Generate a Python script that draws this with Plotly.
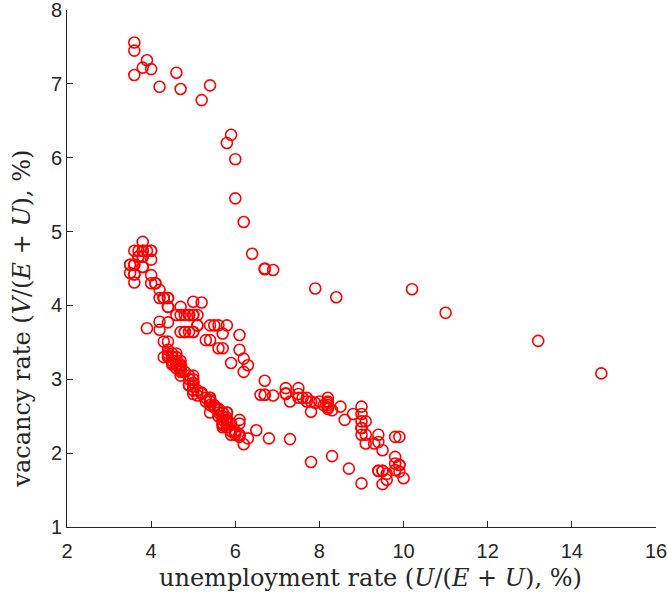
import plotly.graph_objects as go

# monthly points, Dec 2000 onward: unemployment rate (%) and vacancy rate (%)
u_2000 = [3.9]
v_2000 = [3.69]

u_2001 = [4.2, 4.2, 4.3, 4.4, 4.3, 4.5, 4.6, 4.9, 5.0, 5.3, 5.5, 5.7]
v_2001 = [3.78, 3.67, 3.51, 3.51, 3.30, 3.20, 3.15, 3.05, 2.85, 2.75, 2.62, 2.55]
u_2002 = [5.7, 5.7, 5.7, 5.9, 5.8, 5.8, 5.8, 5.7, 5.7, 5.7, 5.9, 6.0]
v_2002 = [2.55, 2.50, 2.45, 2.40, 2.45, 2.48, 2.42, 2.40, 2.35, 2.38, 2.30, 2.25]
u_2003 = [5.8, 5.9, 5.9, 6.0, 6.1, 6.3, 6.2, 6.1, 6.1, 6.0, 5.8, 5.7]
v_2003 = [2.40, 2.30, 2.25, 2.28, 2.25, 2.20, 2.12, 2.22, 2.25, 2.30, 2.35, 2.40]
u_2004 = [5.7, 5.6, 5.8, 5.6, 5.6, 5.6, 5.5, 5.4, 5.4, 5.5, 5.4, 5.4]
v_2004 = [2.45, 2.50, 2.55, 2.55, 2.60, 2.58, 2.62, 2.65, 2.55, 2.65, 2.70, 2.72]
u_2005 = [5.3, 5.4, 5.2, 5.2, 5.1, 5.0, 5.0, 4.9, 5.0, 5.0, 5.0, 4.9]
v_2005 = [2.70, 2.75, 2.80, 2.82, 2.78, 2.85, 2.90, 2.92, 2.95, 3.00, 2.95, 2.92]
u_2006 = [4.7, 4.8, 4.7, 4.7, 4.6, 4.6, 4.7, 4.7, 4.5, 4.4, 4.5, 4.4]
v_2006 = [3.05, 3.10, 3.15, 3.20, 3.25, 3.20, 3.15, 3.18, 3.25, 3.30, 3.22, 3.35]
u_2007 = [4.6, 4.5, 4.4, 4.5, 4.4, 4.6, 4.7, 4.6, 4.7, 4.7, 4.7, 5.0]
v_2007 = [3.30, 3.35, 3.40, 3.30, 3.32, 3.35, 3.25, 3.20, 3.15, 3.10, 3.12, 3.05]
u_2008 = [5.0, 4.9, 5.1, 5.0, 5.4, 5.6, 5.8, 6.1, 6.1, 6.5, 6.8, 7.3]
v_2008 = [2.95, 3.00, 2.85, 2.80, 2.75, 2.60, 2.55, 2.45, 2.40, 2.31, 2.20, 2.19]
u_2009 = [7.8, 8.3, 8.7, 9.0, 9.4, 9.5, 9.5, 9.6, 9.8, 10.0, 9.9, 9.9]
v_2009 = [1.88, 1.96, 1.79, 1.59, 1.76, 1.58, 1.76, 1.64, 1.77, 1.66, 1.75, 1.84]
u_2010 = [9.8, 9.8, 9.9, 9.9, 9.6, 9.4, 9.4, 9.5, 9.5, 9.4, 9.8, 9.3]
v_2010 = [1.86, 1.95, 1.84, 2.22, 1.72, 1.76, 2.25, 2.04, 1.76, 2.15, 2.22, 2.13]
u_2011 = [9.1, 9.0, 9.0, 9.1, 9.0, 9.1, 9.0, 9.0, 9.0, 8.8, 8.6, 8.5]
v_2011 = [2.13, 2.25, 2.34, 2.25, 2.34, 2.43, 2.53, 2.43, 2.63, 2.53, 2.45, 2.63]
u_2012 = [8.3, 8.2, 8.2, 8.2, 8.2, 8.2, 8.2, 8.1, 7.8, 7.8, 7.7, 7.9]
v_2012 = [2.58, 2.65, 2.70, 2.62, 2.68, 2.75, 2.60, 2.65, 2.70, 2.56, 2.75, 2.68]
u_2013 = [8.0, 7.7, 7.5, 7.6, 7.5, 7.5, 7.3, 7.2, 7.2, 7.2, 6.9, 6.7]
v_2013 = [2.70, 2.70, 2.88, 2.75, 2.80, 2.75, 2.70, 2.88, 2.81, 2.80, 2.78, 2.79]
u_2014 = [6.6, 6.7, 6.7, 6.2, 6.3, 6.1, 6.2, 6.1, 5.9, 5.7, 5.8, 5.6]
v_2014 = [2.79, 2.98, 2.79, 3.10, 3.19, 3.40, 3.28, 3.60, 3.22, 3.42, 3.73, 3.42]
u_2015 = [5.7, 5.5, 5.4, 5.4, 5.6, 5.3, 5.2, 5.1, 5.0, 5.0, 5.1, 5.0]
v_2015 = [3.62, 3.73, 3.53, 3.73, 3.73, 3.53, 4.04, 3.73, 3.64, 3.87, 3.73, 3.87]
u_2016 = [4.8, 4.9, 5.0, 5.1, 4.8, 4.9, 4.8, 4.9, 5.0, 4.9, 4.7, 4.7]
v_2016 = [3.87, 3.87, 4.05, 3.87, 3.64, 3.87, 3.64, 3.87, 3.64, 3.64, 3.64, 3.98]
u_2017 = [4.7, 4.6, 4.4, 4.4, 4.4, 4.3, 4.3, 4.4, 4.3, 4.2, 4.2, 4.1]
v_2017 = [3.87, 3.87, 3.98, 4.10, 4.10, 4.10, 4.10, 3.98, 4.10, 4.21, 4.10, 4.30]
u_2018 = [4.0, 4.1, 4.0, 4.0, 3.8, 4.0, 3.8, 3.8, 3.7, 3.8, 3.8, 3.9]
v_2018 = [4.30, 4.30, 4.41, 4.62, 4.52, 4.74, 4.66, 4.74, 4.66, 4.86, 4.74, 4.74]
u_2019 = [4.0, 3.8, 3.8, 3.7, 3.6, 3.6, 3.7, 3.6, 3.5, 3.6, 3.6, 3.6]
v_2019 = [4.74, 4.66, 4.52, 4.74, 4.74, 4.55, 4.66, 4.42, 4.55, 4.42, 4.55, 4.31]
u_2020 = [3.5, 3.5, 4.4, 14.7, 13.2, 11.0, 10.2, 8.4, 7.9, 6.9, 6.7, 6.7]
v_2020 = [4.44, 4.55, 3.77, 3.08, 3.52, 3.90, 4.22, 4.11, 4.23, 4.48, 4.49, 4.50]
u_2021 = [6.4, 6.2, 6.0, 6.0, 5.8, 5.9, 5.4, 5.2, 4.7, 4.6, 4.2, 3.9]
v_2021 = [4.70, 5.13, 5.45, 5.98, 6.20, 6.31, 6.98, 6.78, 6.93, 7.15, 6.96, 7.32]
u_2022 = [4.0, 3.8, 3.6, 3.6, 3.6]
v_2022 = [7.20, 7.22, 7.56, 7.45, 7.12]

unemp = (u_2000 + u_2001 + u_2002 + u_2003 + u_2004 + u_2005 + u_2006 + u_2007
         + u_2008 + u_2009 + u_2010 + u_2011 + u_2012 + u_2013 + u_2014 + u_2015
         + u_2016 + u_2017 + u_2018 + u_2019 + u_2020 + u_2021 + u_2022)
vac = (v_2000 + v_2001 + v_2002 + v_2003 + v_2004 + v_2005 + v_2006 + v_2007
       + v_2008 + v_2009 + v_2010 + v_2011 + v_2012 + v_2013 + v_2014 + v_2015
       + v_2016 + v_2017 + v_2018 + v_2019 + v_2020 + v_2021 + v_2022)

fig = go.Figure(go.Scatter(
    x=unemp, y=vac, mode='markers',
    marker=dict(symbol='circle-open', size=11, color='#ff0000',
                line=dict(width=1.6, color='#ff0000')),
))

tick_font = dict(family='Liberation Sans, Arial', size=20, color='#262626')
title_font = dict(family='DejaVu Serif', size=24, color='#262626')

fig.update_layout(
    width=668, height=599,
    margin=dict(l=67, r=12, t=10, b=72),
    plot_bgcolor='white', paper_bgcolor='white',
    showlegend=False,
    xaxis=dict(range=[2, 16], tickvals=[2, 4, 6, 8, 10, 12, 14, 16],
               showgrid=False, zeroline=False, showline=True, linecolor='#262626',
               linewidth=1, ticks='inside', ticklen=6, tickcolor='#262626',
               tickfont=tick_font, automargin=False, ticklabeloverflow='allow',
               ticklabelstandoff=6),
    yaxis=dict(range=[1, 8], tickvals=[1, 2, 3, 4, 5, 6, 7, 8],
               showgrid=False, zeroline=False, showline=True, linecolor='#262626',
               linewidth=1, ticks='inside', ticklen=6, tickcolor='#262626',
               tickfont=tick_font, automargin=False, ticklabeloverflow='allow'),
)

# axis labels as annotations so they sit where the original puts them
fig.add_annotation(text='unemployment rate (<i>U</i>/(<i>E</i> + <i>U</i>), %)',
                   xref='paper', yref='paper', x=0.516, y=0,
                   xanchor='center', yanchor='middle', yshift=-51,
                   showarrow=False, font=title_font)
fig.add_annotation(text='vacancy rate (<i>V</i>/(<i>E</i> + <i>U</i>), %)',
                   xref='paper', yref='paper', x=0, y=0.403,
                   xanchor='center', yanchor='middle', xshift=-45, textangle=-90,
                   showarrow=False, font=title_font)

# page body has a default 8px margin; drop it so the figure sits at the corner
fig.write_html('out.html', config={'displayModeBar': False},
               post_script="document.body.style.margin='0px';")
